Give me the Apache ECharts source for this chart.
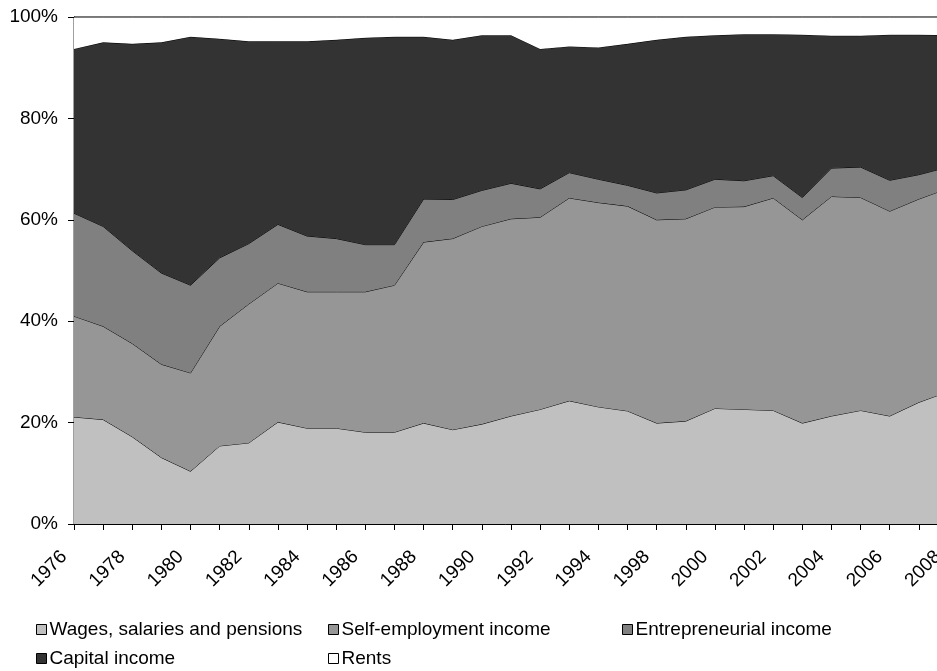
<!DOCTYPE html>
<html>
<head>
<meta charset="utf-8">
<script src="https://cdn.jsdelivr.net/npm/echarts@6/dist/echarts.min.js"></script>
<style>
html,body{margin:0;padding:0;background:#fff;}
#chart{width:937px;height:671px;}
</style>
</head>
<body>
<div id="chart"></div>
<script>
var years = ['1976','1977','1978','1979','1980','1981','1982','1983','1984','1985','1986','1987','1988','1989','1990','1991','1992','1993','1994','1996','1998','1999','2000','2001','2002','2003','2004','2005','2006','2007','2008'];
var seriesNames = ['Wages, salaries and pensions','Self-employment income','Entrepreneurial income','Capital income','Rents'];
var wages = [21.1,20.6,17.2,13.1,10.4,15.4,16.0,20.1,18.9,18.9,18.1,18.1,19.9,18.6,19.7,21.3,22.6,24.3,23.1,22.3,19.9,20.3,22.8,22.6,22.4,19.9,21.3,22.4,21.3,24.0,26.1];
var selfEmployment = [19.9,18.4,18.4,18.4,19.4,23.6,27.4,27.4,26.9,26.9,27.7,29.0,35.7,37.7,39.0,38.9,37.9,40.0,40.3,40.4,40.1,39.9,39.7,40.0,41.9,40.1,43.3,42.0,40.4,40.1,40.1];
var entrepreneurial = [20.3,19.7,18.3,18.0,17.3,13.5,11.9,11.6,11.0,10.5,9.3,8.0,8.5,7.7,7.1,7.0,5.6,5.0,4.6,4.1,5.3,5.7,5.5,5.1,4.4,4.4,5.6,6.0,6.1,4.8,4.2];
var capital = [32.4,36.3,40.8,45.5,49.0,43.2,39.9,36.1,38.4,39.2,40.8,41.0,32.0,31.5,30.6,29.2,27.6,24.9,26.0,27.9,30.2,30.2,28.4,28.9,27.9,32.1,26.1,25.9,28.7,27.6,26.0];
var rents = [6.3,5.0,5.3,5.0,3.9,4.3,4.8,4.8,4.8,4.5,4.1,3.9,3.9,4.5,3.6,3.6,6.3,5.8,6.0,5.3,4.5,3.9,3.6,3.4,3.4,3.5,3.7,3.7,3.5,3.5,3.6];
var yTicks = [0,20,40,60,80,100];

var colors = ['#c0c0c0','#969696','#808080','#333333','#ffffff'];
var dataSets = [wages, selfEmployment, entrepreneurial, capital, rents];
var FONT = 'Liberation Sans, Arial, sans-serif';

var chart = echarts.init(document.getElementById('chart'), null, {renderer:'canvas'});

var series = seriesNames.map(function(name, k){
  return {
    name: name,
    type: 'line',
    stack: 'total',
    data: dataSets[k],
    showSymbol: false,
    symbol: 'none',
    smooth: false,
    itemStyle: {color: colors[k], borderColor: '#000', borderWidth: 1},
    lineStyle: {color: '#000', width: 1},
    areaStyle: {color: colors[k], opacity: 1},
    z: 2 + k,
    silent: true,
    animation: false
  };
});

var legendPos = [
  {left: 31, top: 615},
  {left: 323, top: 615},
  {left: 617, top: 615},
  {left: 31, top: 644},
  {left: 323, top: 644}
];
var legends = seriesNames.map(function(name, k){
  return {
    data: [{name: name, icon: 'rect', itemStyle: {color: colors[k], borderColor: '#000', borderWidth: 1}}],
    left: legendPos[k].left,
    top: legendPos[k].top,
    itemWidth: 10,
    itemHeight: 10,
    itemGap: 6,
    selectedMode: false,
    textStyle: {fontFamily: FONT, fontSize: 19, color: '#000', padding: [0,0,0,-2]}
  };
});

chart.setOption({
  animation: false,
  backgroundColor: '#fff',
  grid: {left: 74, right: -11, top: 17, bottom: 147, outerBoundsMode: 'none', containLabel: false, show: true, borderColor: '#404040', borderWidth: 1, backgroundColor: 'transparent'},
  legend: legends,
  xAxis: {
    type: 'category',
    data: years,
    boundaryGap: false,
    axisLine: {lineStyle: {color: '#000', width: 1}},
    axisTick: {show: true, interval: 0, length: 6, lineStyle: {color: '#000'}},
    axisLabel: {interval: 1, rotate: 45, margin: 20, padding: [0,14,0,0], fontFamily: FONT, fontSize: 19, color: '#000'},
    splitLine: {show: false}
  },
  yAxis: {
    type: 'value',
    min: yTicks[0],
    max: yTicks[yTicks.length-1],
    interval: 20,
    axisLine: {show: true, lineStyle: {color: '#000', width: 1}},
    axisTick: {show: true, length: 6, lineStyle: {color: '#000'}},
    axisLabel: {formatter: '{value}%', margin: 16, fontFamily: FONT, fontSize: 19, color: '#000'},
    splitLine: {show: false}
  },
  series: series
});
</script>
</body>
</html>
